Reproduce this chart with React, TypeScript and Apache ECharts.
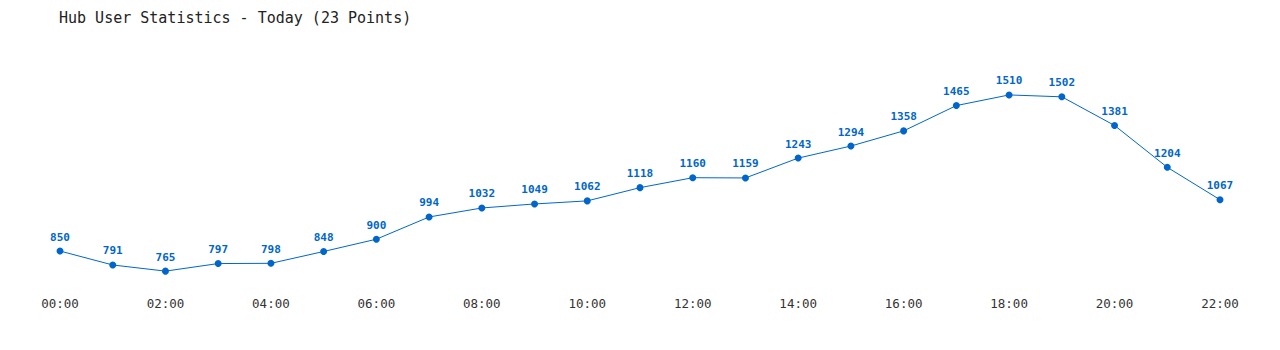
import React, { useEffect, useRef } from "react";
import * as echarts from "echarts";

const titleText = "Hub User Statistics - Today (23 Points)";
const hours = [
  "00:00", "01:00", "02:00", "03:00", "04:00", "05:00", "06:00", "07:00",
  "08:00", "09:00", "10:00", "11:00", "12:00", "13:00", "14:00", "15:00",
  "16:00", "17:00", "18:00", "19:00", "20:00", "21:00", "22:00",
];
const users = [
  850, 791, 765, 797, 798, 848, 900, 994, 1032, 1049, 1062, 1118,
  1160, 1159, 1243, 1294, 1358, 1465, 1510, 1502, 1381, 1204, 1067,
];

const MONO = "'DejaVu Sans Mono', 'Liberation Mono', monospace";
const BLUE = "#0066cc";

export default function App() {
  const ref = useRef<HTMLDivElement>(null);
  useEffect(() => {
    if (!ref.current) return;
    const chart = echarts.init(ref.current, undefined, { renderer: "svg" });
    chart.setOption({
      animation: false,
      backgroundColor: "#ffffff",
      title: {
        text: titleText,
        left: 59,
        top: 10,
        padding: 0,
        textStyle: { fontFamily: MONO, fontSize: 15, fontWeight: "normal", color: "#222" },
      },
      grid: { left: 60, right: 60, top: 50, bottom: 63.5 },
      xAxis: {
        type: "category",
        data: hours,
        boundaryGap: false,
        axisLine: { show: false },
        axisTick: { show: false },
        axisLabel: {
          interval: 1,
          margin: 10,
          fontFamily: MONO,
          fontSize: 12.5,
          color: "#333",
        },
        splitLine: { show: false },
      },
      yAxis: {
        type: "value",
        min: 700,
        max: 1700,
        show: false,
        splitLine: { show: false },
      },
      series: [
        {
          type: "line",
          data: users,
          symbol: "circle",
          symbolSize: 7,
          lineStyle: { color: BLUE, width: 1 },
          itemStyle: { color: BLUE },
          label: {
            show: true,
            position: "top",
            distance: 5,
            fontFamily: MONO,
            fontSize: 11,
            fontWeight: "bold",
            color: BLUE,
          },
        },
      ],
    });
    return () => chart.dispose();
  }, []);
  return (
    <div
      ref={ref}
      style={{ position: "absolute", left: 0, top: 0, width: 1280, height: 350 }}
    />
  );
}
